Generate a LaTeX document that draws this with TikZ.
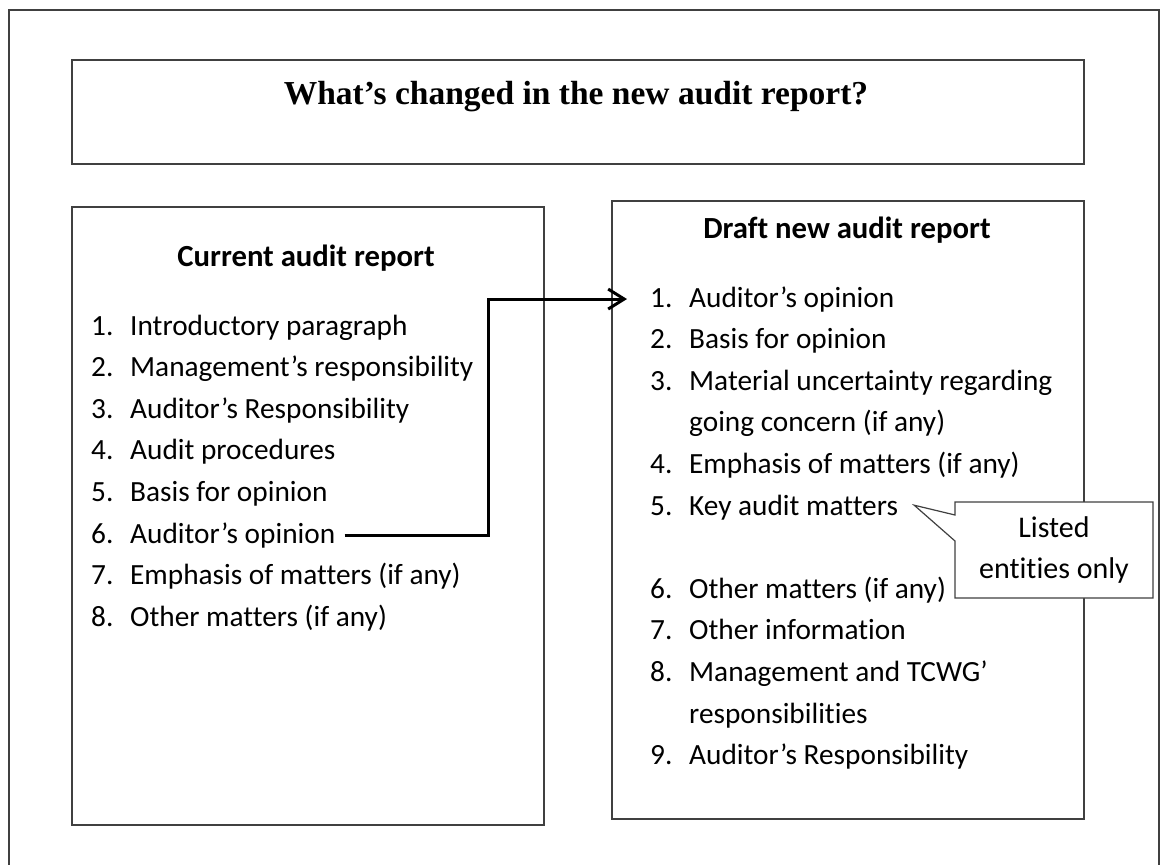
\documentclass[tikz,border=0pt]{standalone}
\usepackage{fontspec}
\setmainfont[Ligatures={NoCommon}]{Carlito}
\newfontfamily\titlefont{Liberation Serif}
\usetikzlibrary{arrows.meta,positioning,shapes.callouts}
\colorlet{FrameGray}{black!75}
\newcommand{\itm}[2]{\makebox[39pt][l]{#1}#2}

\begin{document}
\begin{tikzpicture}[
  x=1pt, y=-1pt,
  frame/.style={draw=FrameGray, line width=1.5pt},
  panel/.style={rectangle, draw=FrameGray, line width=1.5pt, inner sep=0, anchor=north west},
  head/.style={font=\fontsize{30.7}{36}\selectfont\bfseries, anchor=base, inner sep=0},
  entry/.style={font=\fontsize{29.3}{41.6}\selectfont, anchor=base west, inner sep=0, align=left},
  note/.style={rectangle callout, draw=FrameGray, line width=1.2pt, fill=white, minimum width=198pt, minimum height=96pt, align=center, font=\fontsize{30}{41}\selectfont},
  link/.style={-{Straight Barb[length=16pt,width=20pt]}, line width=3pt}
]
\useasboundingbox (0,0) rectangle (1160,865);

% Outer frame
\draw[frame] (9,10) rectangle (1159,880);

% Title
\node[panel, minimum width=1012pt, minimum height=104pt] (titlebox) at (71,59) {};
\node[font=\titlefont\fontsize{33.5}{40}\selectfont\bfseries, anchor=base, inner sep=0] (title) at (576,104) {What’s changed in the new audit report?};

% Current report
\node[panel, minimum width=472pt, minimum height=618pt] (current) at (71,206) {};
\node[head] (curhead) at (306,266) {Current audit report};
\node[entry] (c1) at (91,335) {\itm{1.}{Introductory\ paragraph}};
\node[entry] (c2) at (91,376.6) {\itm{2.}{Management’s responsibility}};
\node[entry] (c3) at (91,418.2) {\itm{3.}{Auditor’s Responsibility}};
\node[entry] (c4) at (91,459.8) {\itm{4.}{Audit procedures}};
\node[entry] (c5) at (91,501.4) {\itm{5.}{Basis for opinion}};
\node[entry] (c6) at (91,543) {\itm{6.}{Auditor’s opinion}};
\node[entry] (c7) at (91,584.6) {\itm{7.}{Emphasis of matters (if any)}};
\node[entry] (c8) at (91,626.2) {\itm{8.}{Other matters (if any)}};

% Draft new report (two-line entries sit on their last line)
\node[panel, minimum width=472pt, minimum height=618pt] (draft) at (611,200) {};
\node[head] (drafthead) at (847,238) {Draft new audit report};
\node[entry] (d1) at (650,307) {\itm{1.}{Auditor’s opinion}};
\node[entry] (d2) at (650,348.6) {\itm{2.}{Basis for opinion}};
\node[entry] (d3) at (650,431.8) {\itm{3.}{Material uncertainty regarding}\\\hspace*{39pt}going concern (if any)};
\node[entry] (d4) at (650,473.4) {\itm{4.}{Emphasis of matters (if any)}};
\node[entry] (d5) at (650,515) {\itm{5.}{Key audit matters}};
\node[entry] (d6) at (650,598.2) {\itm{6.}{Other matters (if any)}};
\node[entry] (d7) at (650,639.8) {\itm{7.}{Other information}};
\node[entry] (d8) at (650,723) {\itm{8.}{Management and TCWG’}\\\hspace*{39pt}responsibilities};
\node[entry] (d9) at (650,764.6) {\itm{9.}{Auditor’s Responsibility}};

% Callout
\node[note, callout absolute pointer={([xshift=16pt,yshift=2pt]d5.east)}, callout pointer width=26pt] (listed) at (1054,550) {Listed\\entities only};

% Arrow
\draw[link] ([xshift=9pt]c6.east) -- ([xshift=153pt]c6.east) |- ([xshift=-23pt]d1.west);

\end{tikzpicture}
\end{document}
